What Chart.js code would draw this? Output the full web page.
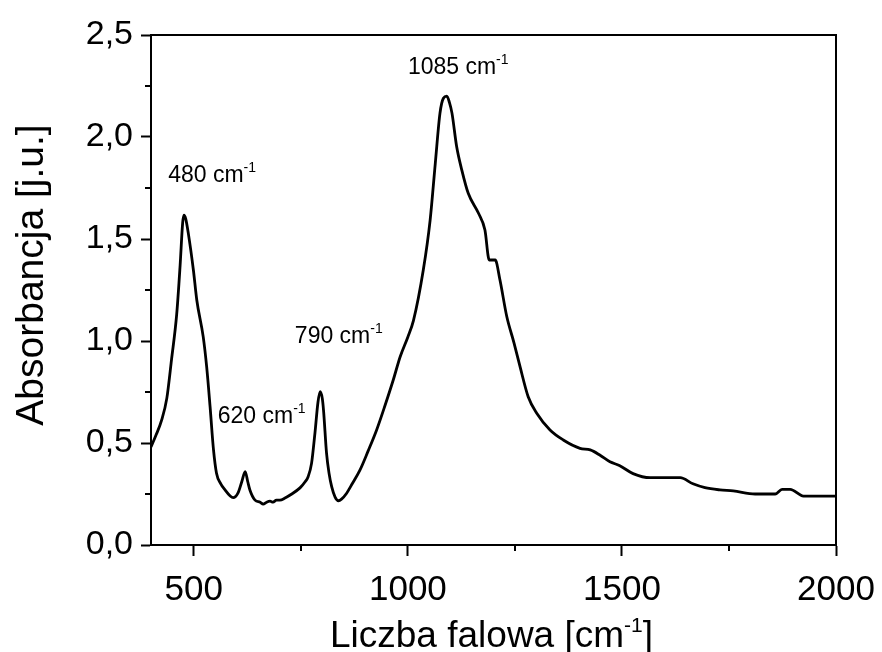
<!DOCTYPE html>
<html lang="pl">
<head>
  <meta charset="UTF-8">
  <title>Widmo FTIR</title>
  <script src="https://cdn.jsdelivr.net/npm/chart.js"></script>
  <style>
    body { margin: 0; background: #fff; }
    #wrap { width: 882px; height: 652px; }
  </style>
</head>
<body>
  <div id="wrap"><canvas id="ftirChart"></canvas></div>
  <script>
    // spectrum
    const wavenumbers = [400, 412, 425, 437, 448, 460, 468, 474, 477, 481, 487, 499, 507, 522, 530, 538, 546, 553, 563, 573,
      585, 592, 603, 612, 620, 626, 631, 643, 655, 662, 670, 678, 685, 693, 701, 713, 725, 748, 760, 767,
      775, 783, 790, 795, 800, 803, 810, 816, 822, 830, 838, 845, 857, 870, 888, 907, 927, 946, 966, 982,
      1000, 1013, 1036, 1052, 1064, 1075, 1083, 1091, 1097, 1103, 1114, 1126, 1141, 1165, 1180, 1190, 1204, 1215, 1231, 1248,
      1262, 1281, 1301, 1332, 1363, 1402, 1426, 1449, 1472, 1494, 1526, 1566, 1636, 1666, 1694, 1729, 1760, 1811, 1858, 1874,
      1893, 1924, 2000];
    const absorbance = [0.48, 0.54, 0.613, 0.72, 0.91, 1.13, 1.37, 1.58, 1.617, 1.60, 1.53, 1.348, 1.20, 1.02, 0.874, 0.678, 0.466, 0.352, 0.30, 0.27,
      0.24, 0.232, 0.254, 0.31, 0.36, 0.31, 0.27, 0.22, 0.21, 0.20, 0.21, 0.215, 0.21, 0.22, 0.22, 0.23, 0.245, 0.28, 0.31, 0.335,
      0.40, 0.55, 0.70, 0.752, 0.72, 0.66, 0.45, 0.35, 0.286, 0.235, 0.217, 0.225, 0.254, 0.30, 0.367, 0.46, 0.564, 0.68, 0.81, 0.923,
      1.02, 1.10, 1.348, 1.593, 1.87, 2.117, 2.19, 2.20, 2.17, 2.117, 1.952, 1.838, 1.724, 1.626, 1.544, 1.397, 1.397, 1.30, 1.12, 0.99,
      0.874, 0.727, 0.646, 0.564, 0.515, 0.474, 0.466, 0.44, 0.408, 0.39, 0.35, 0.33, 0.33, 0.30, 0.281, 0.27, 0.265, 0.25, 0.25, 0.273,
      0.273, 0.24, 0.24];

    const xTicks = [500, 1000, 1500, 2000];
    const xMinorTicks = [750, 1250, 1750];
    const yMinorTicks = [0.25, 0.75, 1.25, 1.75, 2.25];

    // peak labels, anchored in data units (left end of text, baseline)
    const peakNames = ['480', '620', '790', '1085'];
    const peakLabelX = [440, 556, 736, 1000];
    const peakLabelY = [1.78, 0.598, 0.99, 2.31];

    const FONT = '"Liberation Sans", Arial, sans-serif';

    // text with a raised "-1" part
    function supText(ctx, x, y, base, sup, tail, size, supSize, rise, align) {
      ctx.font = size + 'px ' + FONT;
      const wBase = ctx.measureText(base).width;
      const wTail = ctx.measureText(tail).width;
      ctx.font = supSize + 'px ' + FONT;
      const wSup = ctx.measureText(sup).width;
      const total = wBase + wSup + wTail;
      let x0 = align === 'center' ? x - total / 2 : x;
      ctx.textAlign = 'left';
      ctx.textBaseline = 'alphabetic';
      ctx.font = size + 'px ' + FONT;
      ctx.fillText(base, x0, y);
      ctx.font = supSize + 'px ' + FONT;
      ctx.fillText(sup, x0 + wBase, y - rise);
      ctx.font = size + 'px ' + FONT;
      ctx.fillText(tail, x0 + wBase + wSup, y);
    }

    const decor = {
      id: 'decor',
      afterDraw(chart) {
        const ctx = chart.ctx;
        const area = chart.chartArea;
        const xs = chart.scales.x, ys = chart.scales.y;
        ctx.save();
        ctx.strokeStyle = '#000';
        ctx.fillStyle = '#000';
        ctx.lineWidth = 2;
        ctx.strokeRect(area.left, area.top, area.right - area.left, area.bottom - area.top);

        // minor ticks
        ctx.beginPath();
        xMinorTicks.forEach(v => {
          const px = Math.round(xs.getPixelForValue(v));
          ctx.moveTo(px, area.bottom);
          ctx.lineTo(px, area.bottom + 6);
        });
        yMinorTicks.forEach(v => {
          const py = Math.round(ys.getPixelForValue(v));
          ctx.moveTo(area.left, py);
          ctx.lineTo(area.left - 6, py);
        });
        ctx.stroke();

        // peak labels
        peakNames.forEach((name, i) => {
          supText(ctx, xs.getPixelForValue(peakLabelX[i]), ys.getPixelForValue(peakLabelY[i]),
            name + ' cm', '-1', '', 23, 14, 10, 'left');
        });

        // axis titles
        supText(ctx, (area.left + area.right) / 2 - 2, 647, 'Liczba falowa [cm', '-1', ']', 37, 21, 15, 'center');

        ctx.translate(43, 275);
        ctx.rotate(-Math.PI / 2);
        ctx.font = '39px ' + FONT;
        ctx.textAlign = 'center';
        ctx.textBaseline = 'alphabetic';
        ctx.fillText('Absorbancja [j.u.]', 0, 0);
        ctx.restore();
      }
    };

    new Chart(document.getElementById('ftirChart'), {
      type: 'line',
      data: {
        datasets: [{
          data: wavenumbers.map((w, i) => ({ x: w, y: absorbance[i] })),
          borderColor: '#000',
          borderWidth: 2.8,
          pointRadius: 0,
          cubicInterpolationMode: 'monotone',
          fill: false
        }]
      },
      options: {
        responsive: true,
        maintainAspectRatio: false,
        animation: false,
        layout: { padding: { left: 0, right: 46, top: 35, bottom: 0 } },
        plugins: { legend: { display: false }, tooltip: { enabled: false } },
        scales: {
          x: {
            type: 'linear',
            min: 400,
            max: 2000,
            afterBuildTicks: axis => { axis.ticks = xTicks.map(v => ({ value: v })); },
            afterFit: scale => {
              scale.height = 107;
              scale.paddingLeft = 0;
              scale.paddingRight = 0;
            },
            grid: { drawOnChartArea: false, tickLength: 11, tickWidth: 2, tickColor: '#000' },
            border: { display: true, color: '#000', width: 2 },
            ticks: {
              color: '#000',
              padding: 13,
              maxRotation: 0,
              font: { family: FONT, size: 35 },
              callback: v => String(v)
            }
          },
          y: {
            min: 0,
            max: 2.5,
            afterFit: scale => {
              scale.width = 151;
              scale.paddingTop = 0;
              scale.paddingBottom = 0;
            },
            grid: { drawOnChartArea: false, tickLength: 10, tickWidth: 2, tickColor: '#000' },
            border: { display: true, color: '#000', width: 2 },
            ticks: {
              stepSize: 0.5,
              color: '#000',
              padding: 8,
              font: { family: FONT, size: 34 },
              callback: v => v.toFixed(1).replace('.', ',')
            }
          }
        }
      },
      plugins: [decor]
    });
  </script>
</body>
</html>
